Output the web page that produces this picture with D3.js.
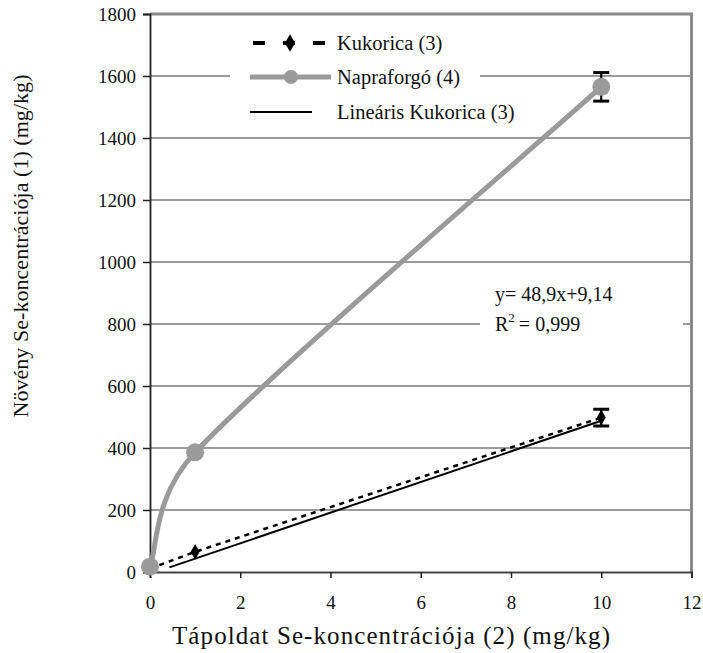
<!DOCTYPE html>
<html lang="hu">
<head>
<meta charset="UTF-8">
<title>Se-koncentráció</title>
<script src="https://d3js.org/d3.v7.min.js"></script>
<style>
body {margin: 0; background: white;}
svg {display: block;}
</style>
</head>
<body>
<svg width="703" height="653"></svg>
<script>
// data
const concX = [0, 1, 10];
const kukorica = [11, 65, 498];
const kukoricaErr = [0, 0, 27];
const napraforgo = [17, 386, 1565];
const napraforgoErr = [0, 0, 46];
const trendX = [0.43, 10];
const trendY = [15, 488];
const xTicks = [0, 2, 4, 6, 8, 10, 12];
const yTicks = [0, 200, 400, 600, 800, 1000, 1200, 1400, 1600, 1800];
const legendLabels = ["Kukorica (3)", "Napraforgó (4)", "Lineáris Kukorica (3)"];

const FONT = "'Liberation Serif', 'DejaVu Serif', serif";
const svg = d3.select("svg").style("font-family", FONT);
const plotL = 150, plotR = 691.5, plotT = 14, plotB = 572;

const xs = d3.scaleLinear().domain([0, 12]).range([plotL, plotR]);
const ys = d3.scaleLinear().domain([0, 1800]).range([plotB, plotT]);

// gridlines
svg.append("g").selectAll("line")
  .data(yTicks.slice(1, -1))
  .enter().append("line")
  .attr("x1", plotL).attr("x2", plotR)
  .attr("y1", d => ys(d)).attr("y2", d => ys(d))
  .attr("stroke", "#7a7a7a").attr("stroke-width", 1.5);

// plot frame (top + right gray)
svg.append("path")
  .attr("d", "M" + plotL + "," + plotT + "H" + plotR + "V" + plotB)
  .attr("fill", "none").attr("stroke", "#8a8a8a").attr("stroke-width", 3);

// white boxes behind legend and equation
svg.append("rect").attr("x", 230).attr("y", 25).attr("width", 250).attr("height", 103).attr("fill", "white");
svg.append("rect").attr("x", 480).attr("y", 278).attr("width", 203).attr("height", 66).attr("fill", "white");

// axes
const yAxis = svg.append("g")
  .attr("transform", "translate(" + plotL + ",0)")
  .call(d3.axisLeft(ys).tickValues(yTicks).tickFormat(d3.format("d")).tickSize(7).tickPadding(7));
const xAxis = svg.append("g")
  .attr("transform", "translate(0," + plotB + ")")
  .call(d3.axisBottom(xs).tickValues(xTicks).tickFormat(d3.format("d")).tickSize(6).tickPadding(18));
[yAxis, xAxis].forEach(a => {
  a.attr("font-family", FONT);
  a.select(".domain").attr("stroke", "#222").attr("stroke-width", 1.8);
  a.selectAll(".tick line").attr("stroke", "#222").attr("stroke-width", 1.5);
  a.selectAll(".tick text").attr("font-size", 19).attr("fill", "#111");
});
xAxis.select(".domain").attr("stroke", "#444");

// Kukorica dashed line
const line = d3.line().x(d => xs(d[0])).y(d => ys(d[1]));
const kData = concX.map((x, i) => [x, kukorica[i]]);
svg.append("path")
  .attr("d", line(kData))
  .attr("fill", "none").attr("stroke", "black")
  .attr("stroke-width", 2.5).attr("stroke-dasharray", "5,5");

// linear trendline
svg.append("path")
  .attr("d", line(trendX.map((x, i) => [x, trendY[i]])))
  .attr("fill", "none").attr("stroke", "black").attr("stroke-width", 2);

// Kukorica markers and error bars
const diamond = d3.symbol().type(d3.symbolDiamond).size(70);
svg.append("g").selectAll("path")
  .data(kData)
  .enter().append("path")
  .attr("transform", d => "translate(" + xs(d[0]) + "," + ys(d[1]) + ")")
  .attr("d", diamond).attr("fill", "black");

function errorBars(vals, errs) {
  const g = svg.append("g").attr("stroke", "black").attr("stroke-width", 2.2);
  concX.forEach((x, i) => {
    if (!errs[i]) return;
    const cx = xs(x), y1 = ys(vals[i] + errs[i]), y2 = ys(vals[i] - errs[i]);
    g.append("line").attr("x1", cx).attr("x2", cx).attr("y1", y1).attr("y2", y2);
    g.append("line").attr("x1", cx - 8).attr("x2", cx + 8).attr("y1", y1).attr("y2", y1).attr("stroke-width", 3);
    g.append("line").attr("x1", cx - 8).attr("x2", cx + 8).attr("y1", y2).attr("y2", y2).attr("stroke-width", 3);
  });
}
errorBars(kukorica, kukoricaErr);

// Excel-style smoothed line: bezier, 1/6 tangents, arm capped at half the segment
function smoothPath(pts) {
  const p = d3.path();
  const dist = (a, b) => Math.hypot(b[0] - a[0], b[1] - a[1]);
  p.moveTo(pts[0][0], pts[0][1]);
  for (let i = 0; i < pts.length - 1; i++) {
    const p0 = pts[Math.max(i - 1, 0)], p1 = pts[i], p2 = pts[i + 1], p3 = pts[Math.min(i + 2, pts.length - 1)];
    const d12 = dist(p1, p2), d02 = dist(p0, p2), d13 = dist(p1, p3);
    let f1 = 1 / 6, f2 = 1 / 6;
    if (d02 * f1 > d12 / 2) f1 = d12 / (2 * d02);
    if (d13 * f2 > d12 / 2) f2 = d12 / (2 * d13);
    p.bezierCurveTo(
      p1[0] + f1 * (p2[0] - p0[0]), p1[1] + f1 * (p2[1] - p0[1]),
      p2[0] - f2 * (p3[0] - p1[0]), p2[1] - f2 * (p3[1] - p1[1]),
      p2[0], p2[1]);
  }
  return p.toString();
}

// Napraforgó smoothed line
const nData = concX.map((x, i) => [x, napraforgo[i]]);
errorBars(napraforgo, napraforgoErr);
svg.append("path")
  .attr("d", smoothPath(nData.map(d => [xs(d[0]), ys(d[1])])))
  .attr("fill", "none").attr("stroke", "#9a9a9a").attr("stroke-width", 5);
svg.append("g").selectAll("circle")
  .data(nData)
  .enter().append("circle")
  .attr("cx", d => xs(d[0])).attr("cy", d => ys(d[1]))
  .attr("r", 9).attr("fill", "#9a9a9a");

// legend
const lg = svg.append("g");
const legendY = [43, 77, 112];
lg.append("line").attr("x1", 253).attr("x2", 325).attr("y1", legendY[0]).attr("y2", legendY[0])
  .attr("stroke", "black").attr("stroke-width", 4).attr("stroke-dasharray", "12,18");
lg.append("path").attr("transform", "translate(290," + legendY[0] + ")")
  .attr("d", d3.symbol().type(d3.symbolDiamond).size(90)).attr("fill", "black");
lg.append("line").attr("x1", 250).attr("x2", 331).attr("y1", legendY[1]).attr("y2", legendY[1])
  .attr("stroke", "#9a9a9a").attr("stroke-width", 5);
lg.append("circle").attr("cx", 291).attr("cy", legendY[1]).attr("r", 7).attr("fill", "#9a9a9a");
lg.append("line").attr("x1", 250).attr("x2", 312).attr("y1", legendY[2]).attr("y2", legendY[2])
  .attr("stroke", "black").attr("stroke-width", 2);
lg.selectAll("text")
  .data(legendLabels)
  .enter().append("text")
  .attr("x", 337).attr("y", (d, i) => legendY[i])
  .attr("dy", "0.35em").attr("font-size", 20.5).attr("fill", "#111")
  .text(d => d);

// equation
svg.append("text").attr("x", 495).attr("y", 301).attr("font-size", 20).attr("fill", "#111")
  .text("y= 48,9x+9,14");
const r2 = svg.append("text").attr("x", 495).attr("y", 331).attr("font-size", 20).attr("fill", "#111");
r2.append("tspan").text("R");
r2.append("tspan").attr("dy", -9).attr("font-size", 13).text("2");
r2.append("tspan").attr("dy", 9).text("\u2009= 0,999");

// axis titles
svg.append("text").attr("x", 391).attr("y", 644).attr("text-anchor", "middle")
  .attr("font-size", 25).attr("fill", "#111")
  .attr("textLength", 438).attr("lengthAdjust", "spacing")
  .text("Tápoldat Se-koncentrációja (2) (mg/kg)");
svg.append("text").attr("transform", "translate(28,246) rotate(-90)")
  .attr("text-anchor", "middle").attr("font-size", 22).attr("fill", "#111")
  .attr("textLength", 343).attr("lengthAdjust", "spacing")
  .text("Növény Se-koncentrációja (1) (mg/kg)");
</script>
</body>
</html>
